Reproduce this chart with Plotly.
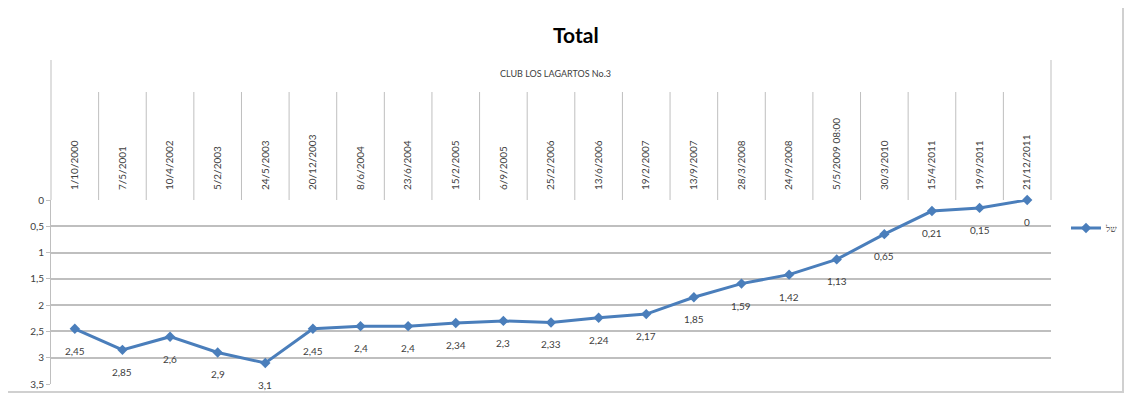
import plotly.graph_objects as go

dates = ["1/10/2000", "7/5/2001", "10/4/2002", "5/2/2003", "24/5/2003", "20/12/2003",
         "8/6/2004", "23/6/2004", "15/2/2005", "6/9/2005", "25/2/2006", "13/6/2006",
         "19/2/2007", "13/9/2007", "28/3/2008", "24/9/2008", "5/5/2009 08:00",
         "30/3/2010", "15/4/2011", "19/9/2011", "21/12/2011"]
values = [2.45, 2.85, 2.6, 2.9, 3.1, 2.45, 2.4, 2.4, 2.34, 2.3, 2.33, 2.24, 2.17,
          1.85, 1.59, 1.42, 1.13, 0.65, 0.21, 0.15, 0]
y_ticks = [0, 0.5, 1, 1.5, 2, 2.5, 3, 3.5]
series_name = "של"
title_text = "Total"
group_label = "CLUB LOS LAGARTOS No.3"

# page body margin offset (8px each side) -> keep figure inside the viewport
OFF = 8
W, H = 1133 - 2 * OFF, 402 - 2 * OFF
# plot area in screen pixels (reference): x 51..1051, y 200..384
ml, mt = 51 - OFF, 200 - OFF
pw, ph = 1000, 184
mr = W - ml - pw
mb = H - mt - ph

def px_x(px):
    return (px - OFF - ml) / pw

def px_y(py):
    return 1 - (py - OFF - mt) / ph

FONT = "Lato"
BLUE = "#4A7EBB"
GRID = "#BFBFBF"
TXT = "#404040"

fig = go.Figure()
idx = list(range(len(dates)))
fig.add_trace(go.Scatter(
    x=idx, y=values, mode="lines+markers", name=series_name,
    line=dict(color=BLUE, width=3),
    marker=dict(symbol="diamond", size=8, color=BLUE),
    cliponaxis=False,
))

annotations = []
for i, v in zip(idx, values):
    annotations.append(dict(
        x=i, y=v, xref="x", yref="y", text=("%g" % v).replace(".", ","),
        showarrow=False, yshift=-22, font=dict(family=FONT, size=10, color=TXT),
    ))

annotations.append(dict(x=px_x(576), y=px_y(35), xref="paper", yref="paper", yanchor="middle",
                        text="<b>%s</b>" % title_text,
                        showarrow=False, font=dict(family=FONT, size=21, color="#000000")))
annotations.append(dict(x=px_x(555), y=px_y(73), xref="paper", yref="paper", yanchor="middle",
                        text=group_label,
                        showarrow=False, font=dict(family=FONT, size=9, color=TXT)))

n = len(dates)
shapes = []
for k in range(n + 1):
    top = 60 if k in (0, n) else 92
    shapes.append(dict(type="line", xref="paper", yref="paper",
                       x0=k / n, x1=k / n, y0=1, y1=px_y(top),
                       line=dict(color=GRID, width=1)))
shapes.append(dict(type="rect", xref="paper", yref="paper",
                   x0=px_x(4), x1=px_x(1123), y0=px_y(392), y1=px_y(5),
                   line=dict(color="#D0D0D0", width=2), layer="below"))

fig.update_layout(
    width=W, height=H,
    margin=dict(l=ml, r=mr, t=mt, b=mb, autoexpand=False),
    paper_bgcolor="white", plot_bgcolor="white",
    separators=",.",
    showlegend=True,
    legend=dict(xref="container", yref="container",
                x=(1066 - OFF) / W, y=1 - (228 - OFF) / H, xanchor="left", yanchor="middle",
                font=dict(family=FONT, size=9, color=TXT), bgcolor="rgba(0,0,0,0)",
                itemwidth=30),
    xaxis=dict(side="top", range=[-0.5, n - 0.5], tickmode="array", tickvals=idx,
               ticktext=dates, tickangle=-90, showgrid=False, zeroline=False,
               showline=False, ticks="", ticklabelstandoff=9, automargin=False,
               tickfont=dict(family=FONT, size=10, color=TXT)),
    yaxis=dict(range=[3.5, 0], tickmode="array", tickvals=y_ticks,
               showgrid=True, gridcolor=GRID, gridwidth=1.5, zeroline=False,
               showline=True, linecolor=GRID, linewidth=1, automargin=False,
               ticks="outside", ticklen=4, tickcolor=GRID,
               tickfont=dict(family=FONT, size=10, color=TXT)),
    annotations=annotations,
    shapes=shapes,
)

fig.write_html("out.html")
